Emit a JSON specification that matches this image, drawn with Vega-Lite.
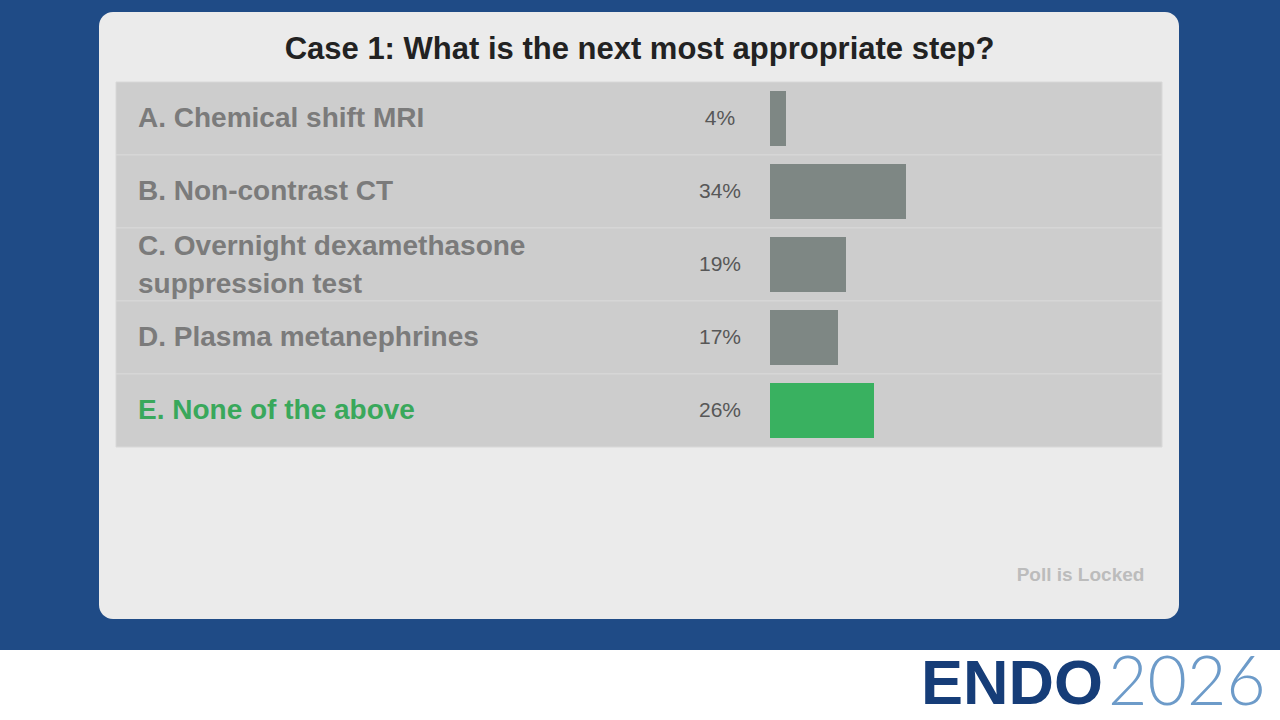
{
  "$schema": "https://vega.github.io/schema/vega-lite/v6.json",
  "background": "#1f4b86",
  "padding": {"top": 12, "left": 0, "right": 0, "bottom": 0},
  "spacing": 31,
  "config": {
    "view": {"stroke": null},
    "font": "Liberation Sans"
  },
  "datasets": {
    "poll": [
      {"option": "A", "label": "A. Chemical shift MRI", "share": 0.04, "status": "other"},
      {"option": "B", "label": "B. Non-contrast CT", "share": 0.34, "status": "other"},
      {"option": "C", "label": "C. Overnight dexamethasone\nsuppression test", "share": 0.19, "status": "other"},
      {"option": "D", "label": "D. Plasma metanephrines", "share": 0.17, "status": "other"},
      {"option": "E", "label": "E. None of the above", "share": 0.26, "status": "correct"}
    ],
    "logo": [
      {"word": "ENDO"},
      {"word": "2026"}
    ]
  },
  "vconcat": [
    {
      "spacing": 0,
      "hconcat": [
        {
          "width": 99,
          "height": 607,
          "view": {"fill": null, "stroke": null},
          "data": {"values": []},
          "mark": "point"
        },
        {
          "width": 1080,
          "height": 607,
          "view": {"fill": "#ebebeb", "cornerRadius": 14, "stroke": null},
          "data": {"name": "poll"},
          "encoding": {
            "y": {
              "field": "option",
              "type": "nominal",
              "sort": null,
              "scale": {"range": [70, 435], "paddingInner": 0, "paddingOuter": 0},
              "axis": {
                "labels": false,
                "ticks": false,
                "domain": false,
                "grid": false,
                "minExtent": 0,
                "maxExtent": 0,
                "title": "Case 1: What is the next most appropriate step?",
                "titleAngle": 0,
                "titleFontSize": 31,
                "titleFontWeight": "bold",
                "titleColor": "#222222",
                "titleAlign": "center",
                "titleBaseline": "alphabetic",
                "titleX": 540,
                "titleY": 46
              }
            }
          },
          "layer": [
            {
              "mark": {"type": "rect", "color": "#cdcdcd", "stroke": "#d8d8d8", "strokeWidth": 1},
              "encoding": {
                "x": {
                  "datum": -1.635,
                  "type": "quantitative",
                  "scale": {"domain": [-1.6775, 1.0225], "nice": false, "zero": false},
                  "axis": {
                    "labels": false,
                    "ticks": false,
                    "domain": false,
                    "grid": false,
                    "title": "Poll is Locked",
                    "titleFontSize": 19,
                    "titleFontWeight": "bold",
                    "titleColor": "#bcbcbc",
                    "titleAlign": "center",
                    "titleBaseline": "alphabetic",
                    "titleX": 981,
                    "titleY": -39
                  }
                },
                "x2": {"datum": 0.98}
              }
            },
            {
              "mark": {"type": "bar", "height": {"band": 0.753}},
              "encoding": {
                "x": {"field": "share", "type": "quantitative"},
                "x2": {"datum": 0},
                "color": {
                  "field": "status",
                  "type": "nominal",
                  "scale": {"domain": ["other", "correct"], "range": ["#7e8784", "#39b160"]},
                  "legend": null
                }
              }
            },
            {
              "mark": {"type": "text", "align": "center", "baseline": "middle", "dx": -50, "fontSize": 21, "color": "#575757"},
              "encoding": {
                "x": {"datum": 0, "type": "quantitative"},
                "text": {"field": "share", "type": "quantitative", "format": ".0%"}
              }
            },
            {
              "transform": [{"filter": "indexof(datum.label, '\\n') < 0"}],
              "mark": {"type": "text", "align": "left", "baseline": "middle", "fontSize": 28, "fontWeight": "bold"},
              "encoding": {
                "x": {"datum": -1.58, "type": "quantitative"},
                "text": {"field": "label"},
                "color": {
                  "field": "status",
                  "type": "nominal",
                  "scale": {"domain": ["other", "correct"], "range": ["#7b7b7b", "#39a85b"]},
                  "legend": null
                }
              }
            },
            {
              "transform": [{"filter": "indexof(datum.label, '\\n') >= 0"}],
              "mark": {"type": "text", "align": "left", "baseline": "middle", "fontSize": 28, "fontWeight": "bold", "lineBreak": "\n", "lineHeight": 38, "dy": -18, "color": "#7b7b7b"},
              "encoding": {
                "x": {"datum": -1.58, "type": "quantitative"},
                "text": {"field": "label"}
              }
            }
          ],
          "resolve": {"scale": {"color": "independent"}}
        }
      ]
    },
    {
      "width": 1280,
      "height": 70,
      "view": {"fill": "#ffffff", "stroke": null},
      "data": {"name": "logo"},
      "encoding": {
        "x": {
          "field": "word",
          "type": "nominal",
          "sort": null,
          "scale": {"type": "point", "range": [921, 1108], "padding": 0},
          "axis": null
        }
      },
      "layer": [
        {
          "transform": [{"filter": "datum.word == 'ENDO'"}],
          "mark": {"type": "text", "align": "left", "baseline": "middle", "fontSize": 63, "fontWeight": 900, "color": "#163d78"},
          "encoding": {"text": {"field": "word"}}
        },
        {
          "transform": [{"filter": "datum.word == '2026'"}],
          "mark": {"type": "text", "align": "left", "baseline": "middle", "font": "Lato", "fontSize": 68, "fontWeight": 300, "color": "#6d9bc9"},
          "encoding": {"text": {"field": "word"}}
        }
      ]
    }
  ]
}
